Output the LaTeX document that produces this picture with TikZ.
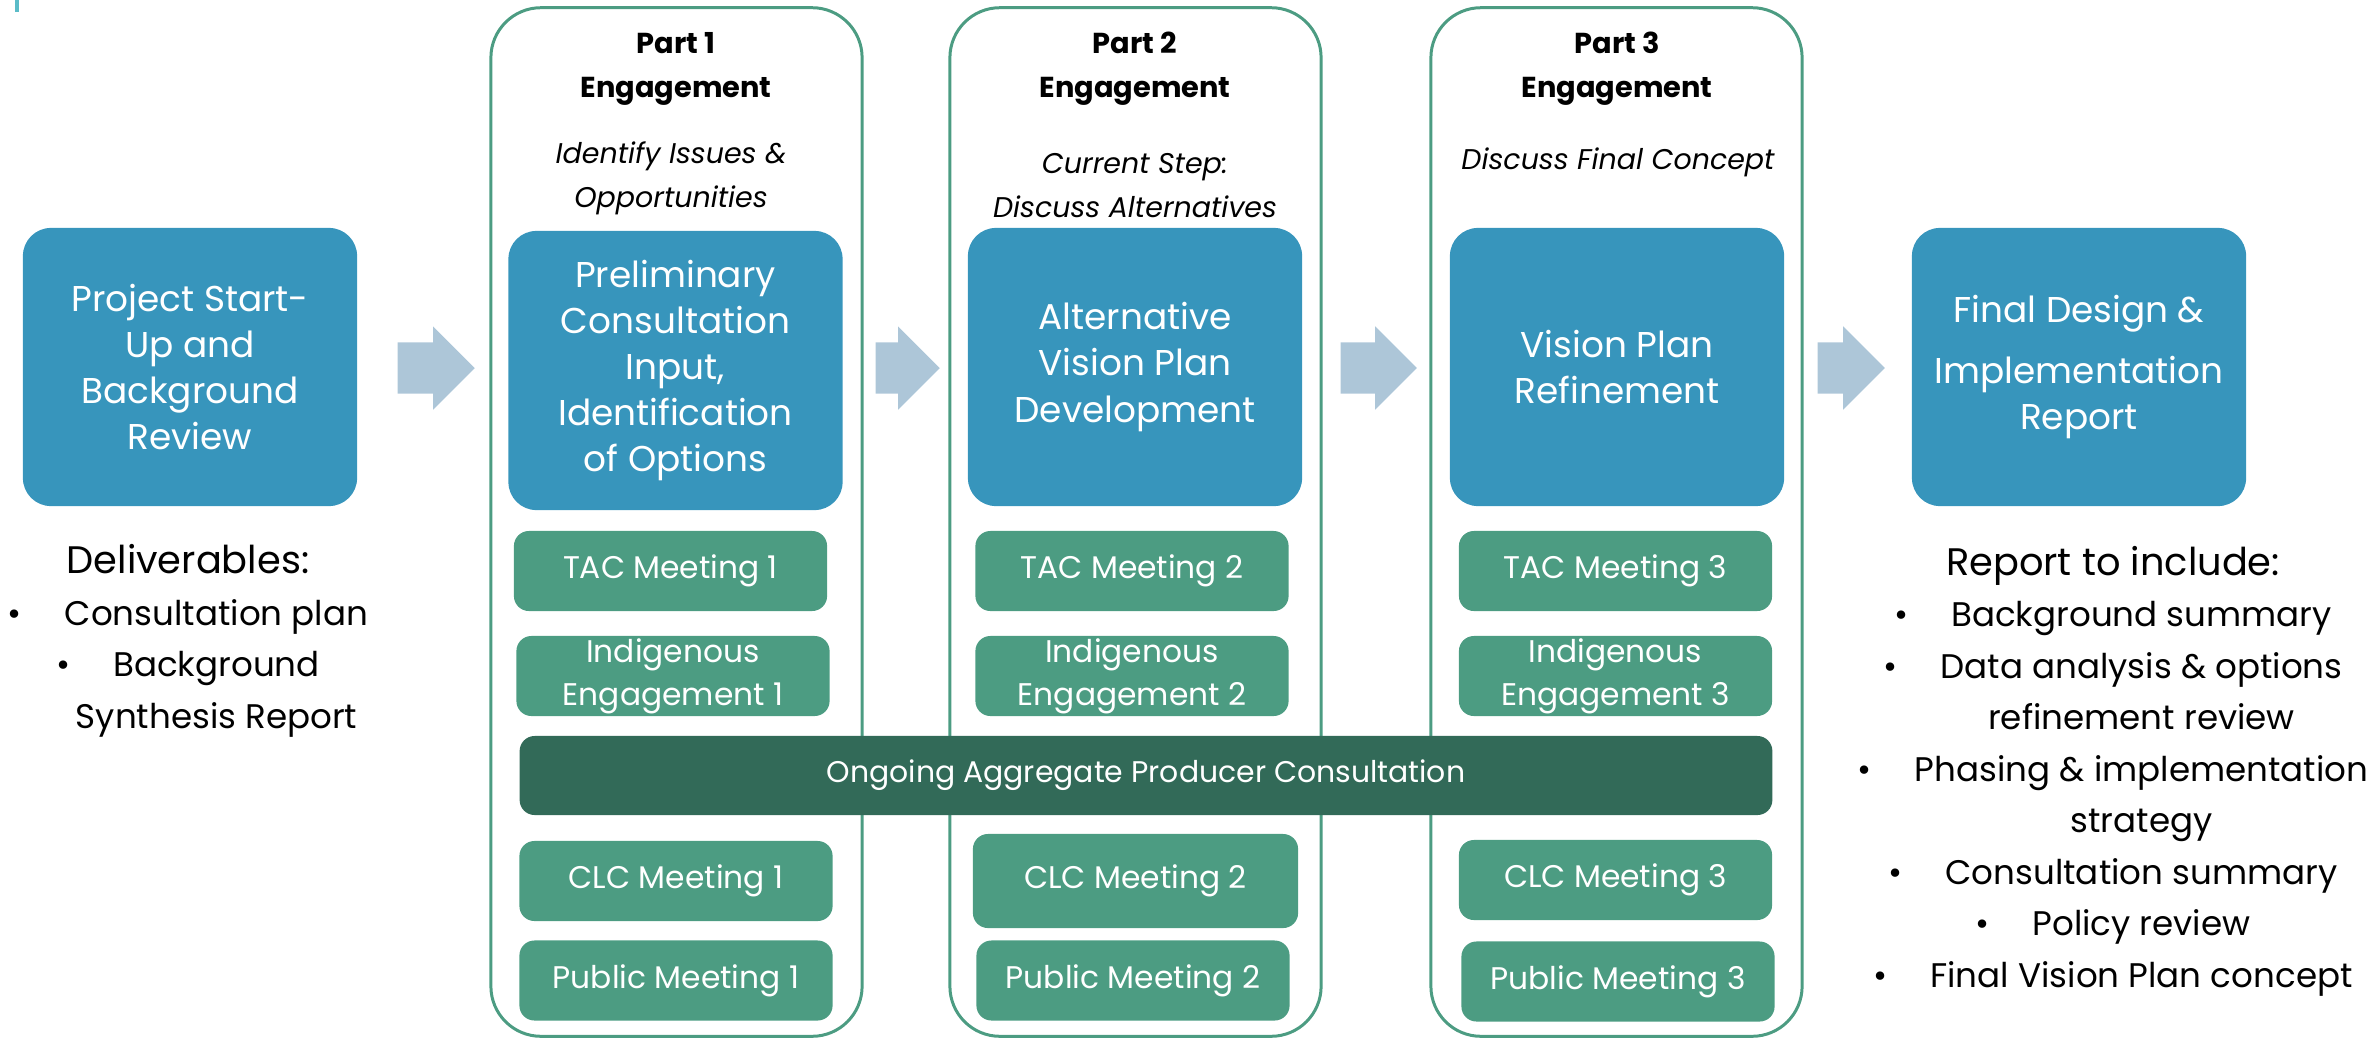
\documentclass[tikz,border=0pt]{standalone}
\usepackage{fontspec}
\setmainfont{Poppins}
\usepackage{xcolor}
\usetikzlibrary{positioning,shapes.arrows}
\definecolor{phaseblue}{RGB}{55,149,188}
\definecolor{meetgreen}{RGB}{76,156,130}
\definecolor{ongoinggreen}{RGB}{50,106,88}
\definecolor{arrowblue}{RGB}{173,198,216}
\definecolor{tealmark}{RGB}{91,188,200}
\newcommand{\bulletitem}{\makebox[0.57cm][l]{\textbullet}}
\newcommand{\listhead}[1]{{\fontsize{10.9}{14.65}\selectfont #1}}

\begin{document}
\begin{tikzpicture}
		[   x=0.01cm,y=-0.01cm,
			phase/.style={fill=phaseblue,text=white,rounded corners=0.28cm,minimum width=3.34cm,minimum height=2.78cm,align=center,inner sep=0pt,font=\fontsize{10.2}{13.1}\selectfont},
			meet/.style={fill=meetgreen,text=white,rounded corners=0.15cm,minimum width=3.13cm,minimum height=0.80cm,align=center,inner sep=0pt,font=\fontsize{8.9}{12.3}\selectfont},
			partframe/.style={draw=meetgreen,line width=0.85pt,rounded corners=0.5cm,minimum width=3.71cm,minimum height=10.28cm},
			parttitle/.style={align=center,inner sep=0pt,font=\bfseries\fontsize{8.2}{12.5}\selectfont},
			partnote/.style={align=center,inner sep=0pt,font=\itshape\fontsize{8.1}{12.5}\selectfont},
			listtext/.style={align=center,inner sep=0pt,font=\fontsize{9.7}{14.65}\selectfont},
		]
		\tikzset{flowarrow/.style={single arrow,fill=arrowblue,inner xsep=0pt,inner ysep=0.25cm,anchor=tail,single arrow head extend=0.16cm,single arrow head indent=0pt,minimum height=#1}}
		\useasboundingbox (0,0) rectangle (2379,1039);
		\fill[tealmark] (14.5,0) rectangle (19,12);
		
		% engagement frames
		\node[partframe] (part-1) at (676.5,522) {};
		\node[partframe] (part-2) at (1135.5,522) {};
		\node[partframe] (part-3) at (1616.5,522) {};
		
		\node[parttitle] (title-1) at (676,69) {Part 1\\Engagement};
		\node[parttitle] (title-2) at (1135,69) {Part 2\\Engagement};
		\node[parttitle] (title-3) at (1617,69) {Part 3\\Engagement};
		
		\node[partnote] (note-1) at (671,178) {Identify Issues \&\\Opportunities};
		\node[partnote] (note-2) at (1135,186) {Current Step:\\Discuss Alternatives};
		\node[partnote] (note-3) at (1618,162) {Discuss Final Concept};
		
		% phases
		\node[phase] (start) at (190,367) {Project Start-\\Up and\\Background\\Review};
		\node[phase,minimum height=2.79cm] (prelim) at (675.5,370.5) {Preliminary\\Consultation\\Input,\\Identification\\of Options};
		\node[phase] (alt) at (1135,367) {Alternative\\Vision Plan\\Development};
		\node[phase] (refine) at (1617,367) {Vision Plan\\Refinement};
		\node[phase] (final) at (2079,367) {Final Design \&\\[4pt]Implementation\\Report};
		
		\node[flowarrow=0.77cm] (arrow-1) at (397,368) {};
		\node[flowarrow=0.64cm] (arrow-2) at (875,368) {};
		\node[flowarrow=0.76cm] (arrow-3) at (1340,368) {};
		\node[flowarrow=0.67cm] (arrow-4) at (1817,368) {};
		
		% meetings
		\node[meet] (tac-1) at (670.5,571) {TAC Meeting 1};
		\node[meet] (ind-1) at (673,676) {Indigenous\\Engagement 1};
		\node[meet] (clc-1) at (676,881) {CLC Meeting 1};
		\node[meet] (pub-1) at (676,980.5) {Public Meeting 1};
		
		\node[meet] (tac-2) at (1132,571) {TAC Meeting 2};
		\node[meet] (ind-2) at (1132,676) {Indigenous\\Engagement 2};
		\node[meet,minimum width=3.25cm,minimum height=0.94cm] (clc-2) at (1135.5,881) {CLC Meeting 2};
		\node[meet] (pub-2) at (1133,980.5) {Public Meeting 2};
		
		\node[meet] (tac-3) at (1615.5,571) {TAC Meeting 3};
		\node[meet] (ind-3) at (1615.5,676) {Indigenous\\Engagement 3};
		\node[meet] (clc-3) at (1615.5,880) {CLC Meeting 3};
		\node[meet] (pub-3) at (1618,981.5) {Public Meeting 3};
		
		\node[meet,fill=ongoinggreen,minimum width=12.52cm,minimum height=0.79cm,font=\fontsize{8.5}{11.7}\selectfont] (ongoing) at (1146,775.5) {Ongoing Aggregate Producer Consultation};
		
		% deliverables
		\node[listtext] (deliver) at (188,641) {\listhead{Deliverables:}\\\bulletitem Consultation plan\\\bulletitem Background\\\hspace*{0.57cm}Synthesis Report};
		\node[listtext] (report) at (2113,771) {\listhead{Report to include:}\\\bulletitem Background summary\\\bulletitem Data analysis \& options\\\hspace*{0.57cm}refinement review\\\bulletitem Phasing \& implementation\\\hspace*{0.57cm}strategy\\\bulletitem Consultation summary\\\bulletitem Policy review\\\bulletitem Final Vision Plan concept};
		\end{tikzpicture}
\end{document}
